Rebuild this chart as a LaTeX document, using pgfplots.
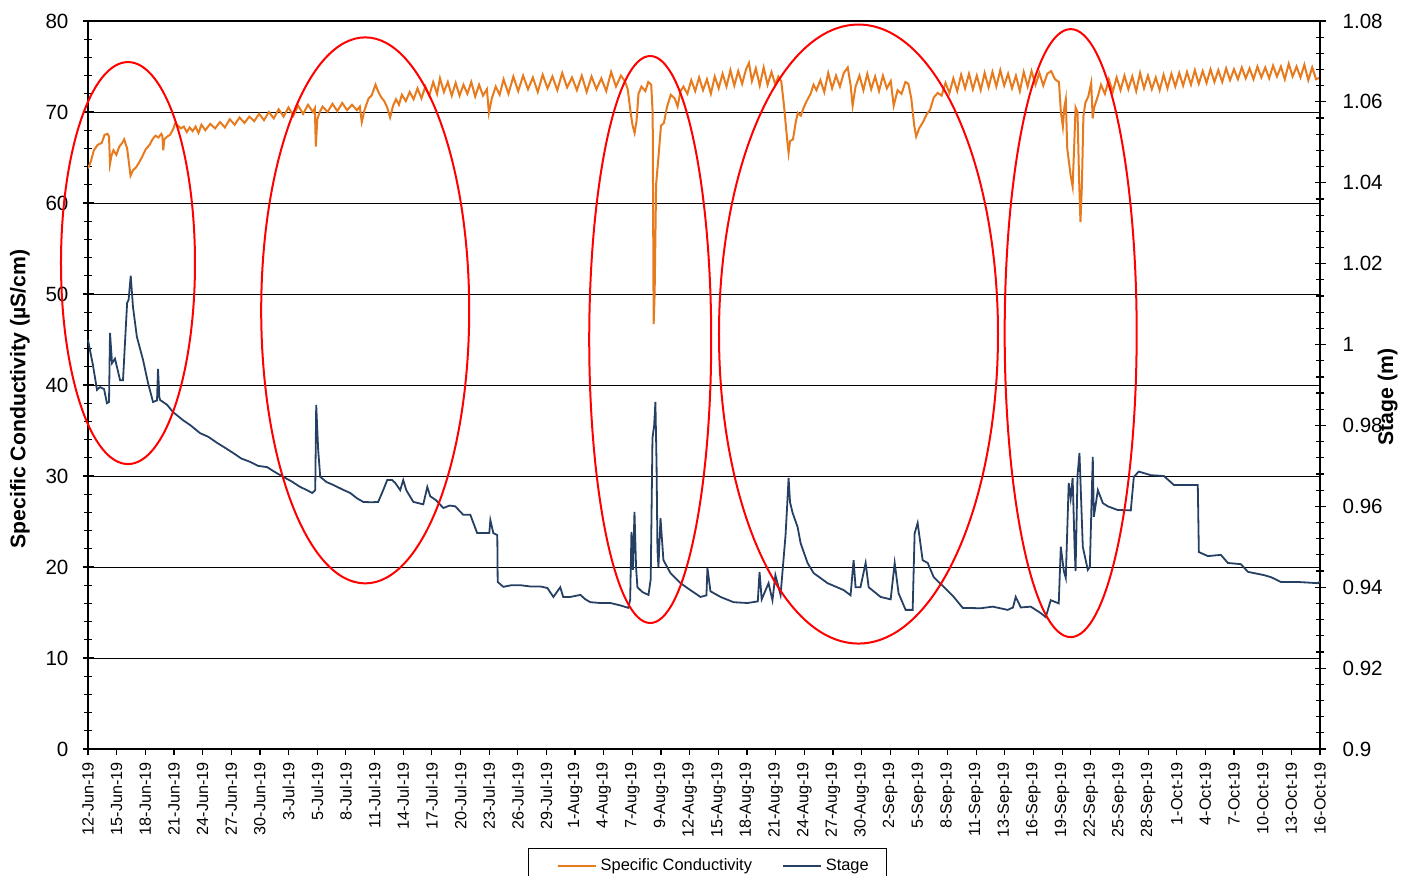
\documentclass[border=0pt]{standalone}
\usepackage{fontspec}
\setmainfont{Liberation Sans}
\usepackage{pgfplots}
\pgfplotsset{compat=1.18}
\definecolor{cond}{RGB}{232,122,30}
\definecolor{stg}{RGB}{38,64,100}
\begin{document}
\begin{tikzpicture}
\useasboundingbox (-44pt,-63pt) rectangle (662.5pt,374.5pt);
\pgfplotsset{every axis/.append style={width=616pt,height=364pt,scale only axis,xmin=0,xmax=126,
  /pgf/number format/assume math mode=true, axis line style={line width=1pt}, tick style={black, line width=0.6pt}}}
% conductivity axis
\begin{axis}[at={(0,0)}, anchor=south west, ymin=0, ymax=80, ytick={0,10,...,80}, minor y tick num=4,
  xtick=\empty, ytick pos=left, tick align=center, major tick length=5.5pt, minor tick length=4pt,
  ymajorgrids, grid style={black, line width=0.5pt},
  yticklabel style={font=\fontsize{10.3}{12}\selectfont, xshift=-3.5pt},
  ylabel={\textbf{Specific Conductivity (µS/cm)}},
  ylabel style={font=\fontsize{10.6}{12}\selectfont, at={(axis description cs:-0.0552,0.4808)}, anchor=center}]
\addplot[cond, line width=1pt] coordinates {
(0,63.8) (0.3,64.6) (0.6,65.8) (1.0,66.4) (1.4,66.6) (1.7,67.5) (2.0,67.6) (2.15,67.3) (2.25,64.3) (2.4,65.2) (2.6,65.8) (2.9,65.3) (3.2,66.2) (3.5,66.6) (3.7,67.0) (4.0,66.0) (4.2,64.3) (4.35,63.0) (4.6,63.6) (4.9,63.9) (5.2,64.4) (5.5,65.0) (5.9,65.9) (6.3,66.4) (6.6,67.0) (6.9,67.4) (7.2,67.2) (7.5,67.6) (7.6,67.4) (7.7,65.8) (7.8,67.0) (8.1,67.3) (8.4,67.5) (8.7,68.1) (8.9,68.7) (9.2,68.5) (9.5,68.2) (9.8,68.4) (10.1,67.8) (10.4,68.3) (10.7,67.9) (11.0,68.4) (11.3,67.7) (11.6,68.6) (12.0,68.0) (12.5,68.7) (13.0,68.2) (13.5,68.9) (14.0,68.3) (14.5,69.2) (15.0,68.6) (15.5,69.4) (16.0,68.8) (16.5,69.5) (17.0,69.0) (17.5,69.8) (18.0,69.1) (18.5,70.0) (19.0,69.3) (19.5,70.3) (20.0,69.5) (20.5,70.5) (21.0,69.6) (21.5,70.7) (22.0,69.8) (22.5,70.8) (23.0,70.0) (23.2,70.4) (23.3,66.2) (23.45,69.2) (23.7,70.0) (24.0,70.6) (24.5,70.0) (25.0,70.9) (25.5,70.1) (26.0,71.0) (26.5,70.2) (27.0,70.8) (27.5,70.2) (27.8,70.6) (28.0,68.9) (28.3,70.3) (28.7,71.5) (29.0,71.8) (29.4,73.0) (29.7,72.2) (30.0,71.6) (30.3,71.2) (30.6,70.5) (30.9,69.4) (31.2,70.7) (31.5,71.4) (31.8,70.8) (32.1,71.9) (32.5,71.2) (32.9,72.2) (33.3,71.4) (33.7,72.6) (34.1,71.5) (34.5,72.8) (34.9,71.8) (35.3,73.3) (35.7,72.0) (36.0,73.7) (36.4,72.2) (36.8,73.3) (37.2,71.8) (37.6,73.2) (38.0,71.8) (38.4,73.0) (38.8,72.0) (39.2,73.3) (39.6,71.7) (40.0,73.0) (40.4,71.8) (40.8,72.5) (41.0,69.9) (41.3,71.5) (41.7,72.8) (42.1,71.9)
(42.5,73.6) (43.0,72.0) (43.5,73.9) (44.0,72.3) (44.5,74.0) (45.0,72.5) (45.5,73.8) (46.0,72.2) (46.5,74.1) (47.0,72.6) (47.5,73.9) (48.0,72.4) (48.5,74.3) (49.0,72.7) (49.5,73.8) (50.0,72.4) (50.5,74.0) (51.0,72.2) (51.5,73.9) (52.0,72.5) (52.5,73.7) (53.0,72.3) (53.5,74.4) (54.0,72.8) (54.5,74.0) (54.9,73.4) (55.2,72.5) (55.5,69.9) (55.7,68.5) (55.9,67.7) (56.1,69.0) (56.3,72.0) (56.6,72.8) (57.0,72.3) (57.3,73.3) (57.6,73.0) (57.75,69.9) (57.85,46.7) (57.95,50.0) (58.1,62.0) (58.4,65.8) (58.6,68.5) (58.9,68.8) (59.2,70.5) (59.6,71.9) (60.0,71.5) (60.3,70.6) (60.6,72.3) (60.9,72.8) (61.3,72.0) (61.7,73.5) (62.1,72.3) (62.5,73.8) (62.9,72.4) (63.3,73.6) (63.7,72.0) (64.1,73.9) (64.5,72.6) (64.9,74.2) (65.3,72.8) (65.7,74.6) (66.1,72.9) (66.5,74.5) (66.9,73.1) (67.3,74.7) (67.6,75.4) (67.9,73.4) (68.3,74.8) (68.7,72.9) (69.1,74.9) (69.5,73.0) (69.9,74.4) (70.3,73.0) (70.6,73.9) (70.9,73.4) (71.2,70.5) (71.5,67.0) (71.65,65.5) (71.8,66.8) (72.1,67.0) (72.4,69.0) (72.6,69.9) (72.9,69.6) (73.2,70.5) (73.5,71.2) (73.9,72.0) (74.2,73.0) (74.5,72.4) (74.9,73.5) (75.3,72.2) (75.7,74.3) (76.1,72.6) (76.5,74.0) (76.9,72.8) (77.3,74.3) (77.7,74.9) (78.0,72.9) (78.2,70.7) (78.5,72.8) (78.9,74.0) (79.3,72.4) (79.7,74.2) (80.1,72.5) (80.5,73.9) (80.9,72.3) (81.3,74.0) (81.7,72.6) (82.1,73.4) (82.4,70.7) (82.8,72.4) (83.2,72.0) (83.6,73.3) (83.9,73.1) (84.2,71.5) (84.5,68.5) (84.7,67.3) (85.0,68.2) (85.4,68.9) (85.8,69.8) (86.1,70.2) (86.5,71.6) (86.9,72.1) (87.3,71.8) (87.7,73.2) (88.1,72.1) (88.5,73.7) (88.9,72.3) (89.3,74.1) (89.7,72.6) (90.1,74.2) (90.5,72.5) (90.9,74.0) (91.3,72.4) (91.7,74.3) (92.1,72.7) (92.5,74.4) (92.9,72.8) (93.3,74.6) (93.7,72.9) (94.1,74.2) (94.5,72.6) (94.9,74.0) (95.3,72.3) (95.7,74.4) (96.1,72.8) (96.5,74.5) (96.9,73.0) (97.3,74.3) (97.7,72.9) (98.1,74.2) (98.5,74.5) (98.9,73.6) (99.3,73.3) (99.5,70.0) (99.7,68.4) (99.85,70.5) (100.0,71.4) (100.15,66.0) (100.3,64.7) (100.5,63.0) (100.7,61.8) (100.85,66.0) (101.0,70.5) (101.2,70.0) (101.35,63.0) (101.5,57.9) (101.65,62.0) (101.8,69.5) (102.0,71.0) (102.3,71.7) (102.6,73.2) (102.75,69.3) (102.9,70.5) (103.3,71.8) (103.6,73.0) (104.0,72.0) (104.4,73.6) (104.8,72.2) (105.2,73.8) (105.6,72.4) (106.0,74.0) (106.4,72.5) (106.8,73.9) (107.2,72.3) (107.6,74.3) (108.0,72.6) (108.4,74.0) (108.8,72.5) (109.2,73.8) (109.6,72.4) (110.0,74.1) (110.4,72.6) (110.8,74.2) (111.2,72.8) (111.6,74.3) (112.0,72.9) (112.4,74.4) (112.8,73.0) (113.2,74.6) (113.6,73.1) (114.0,74.5) (114.4,73.2) (114.8,74.7) (115.2,73.3) (115.6,74.6) (116.0,73.3) (116.4,74.8) (116.8,73.5) (117.2,74.7) (117.6,73.6) (118.0,74.9) (118.4,73.7) (118.8,74.8) (119.2,73.6) (119.6,75.0) (120.0,73.8) (120.4,74.9) (120.8,73.7) (121.2,75.1) (121.6,73.9) (122.0,75.0) (122.4,73.6) (122.8,75.3) (123.2,73.9) (123.6,75.0) (124.0,73.8) (124.4,75.2) (124.8,73.5) (125.2,74.9) (125.6,73.6) (126.0,73.8)
};
\end{axis}
% stage axis
\begin{axis}[at={(0,0)}, anchor=south west, ymin=0.9, ymax=1.08,
  ytick={0.9,0.92,0.94,0.96,0.98,1,1.02,1.04,1.06,1.08},
  yticklabels={0.9,0.92,0.94,0.96,0.98,1,1.02,1.04,1.06,1.08},
  minor y tick num=4, axis y line*=right, axis x line=none,
  tick align=center, major tick length=5.5pt, minor tick length=4pt, clip=false,
  yticklabel style={font=\fontsize{10.3}{12}\selectfont, xshift=5pt},
  ylabel={\textbf{Stage (m)}},
  ylabel style={font=\fontsize{10.6}{12}\selectfont, at={(axis description cs:1.055,0.4835)}, anchor=center},
  legend columns=2, legend cell align=left,
  legend image code/.code={\path (-7pt,0pt); \draw[#1] (0pt,0pt) -- (19pt,0pt);},
  legend style={at={(axis description cs:0.503,-0.136)}, anchor=north, draw=black, line width=0.5pt,
    font=\fontsize{8.2}{10}\selectfont, inner xsep=7pt, inner ysep=3pt,
    /tikz/every even column/.append style={column sep=6pt}}]
\addlegendimage{cond, line width=1pt}\addlegendentry{Specific Conductivity}
\addplot[stg, line width=0.9pt] coordinates {
(0,1.0011) (0.5,0.9950) (0.92,0.9888) (1.23,0.9895) (1.64,0.9890) (1.94,0.9855) (2.15,0.9858) (2.25,1.0029) (2.46,0.9954) (2.76,0.9965) (3.28,0.9912) (3.58,0.9912) (4.0,1.0103) (4.15,1.0110) (4.37,1.0170) (4.6,1.0093) (5.0,1.0019) (5.63,0.9962) (6.14,0.9905) (6.65,0.9858) (7.06,0.9862) (7.16,0.9940) (7.3,0.9870) (7.37,0.9863) (8.09,0.9851) (8.7,0.9833) (9.72,0.9813) (10.5,0.9800) (11.46,0.9781) (12.3,0.9772) (13.2,0.9757) (14.0,0.9745) (14.84,0.9732) (15.7,0.9718) (16.58,0.9710) (17.4,0.9700) (18.32,0.9697) (19.1,0.9685) (19.96,0.9673) (20.8,0.9662) (21.7,0.9648) (22.4,0.9640) (22.93,0.9633) (23.24,0.9640) (23.34,0.9851) (23.54,0.9740) (23.75,0.9673) (24.4,0.9660) (25.08,0.9653) (26.0,0.9642) (26.82,0.9633) (27.5,0.9620) (28.15,0.9611) (29.0,0.9610) (29.68,0.9611) (30.19,0.9640) (30.6,0.9665) (31.1,0.9665) (31.42,0.9658) (31.93,0.9640) (32.24,0.9665) (32.55,0.9640) (33.27,0.9611) (34.29,0.9605) (34.7,0.9648) (35.0,0.9625) (35.6,0.9615) (36.34,0.9596) (37.0,0.9602) (37.56,0.9600) (38.38,0.9579) (39.1,0.9579) (39.8,0.9534) (40.43,0.9534) (41.04,0.9534) (41.15,0.9566) (41.45,0.9534) (41.86,0.9529) (41.9,0.9413) (42.48,0.9401) (43.3,0.9405) (44.2,0.9405) (45.2,0.9402) (46.26,0.9402) (46.98,0.9398) (47.6,0.9376) (48.3,0.9400) (48.6,0.9376) (49.33,0.9376) (50.36,0.9381) (50.87,0.9370) (51.38,0.9363) (52.4,0.9361) (53.43,0.9361) (54.45,0.9355) (55.27,0.9349) (55.45,0.9370) (55.58,0.9537) (55.73,0.9443) (55.89,0.9586) (56.05,0.9450) (56.19,0.9400) (56.7,0.9388) (57.32,0.9381) (57.55,0.9420) (57.73,0.9769) (57.9,0.9800) (58.03,0.9858) (58.15,0.9700) (58.24,0.9492) (58.34,0.9450) (58.55,0.9571) (58.85,0.9467) (59.57,0.9435) (60.6,0.9410) (61.6,0.9393) (62.64,0.9376) (63.25,0.9380) (63.35,0.9448) (63.66,0.9390) (64.69,0.9376) (66.02,0.9363) (67.45,0.9361) (68.5,0.9365) (68.68,0.9438) (68.9,0.9370) (69.6,0.9410) (70.0,0.9368) (70.3,0.9430) (70.83,0.9381) (71.34,0.9529) (71.5,0.9600) (71.65,0.9670) (71.8,0.9610) (72.06,0.9584) (72.57,0.9549) (72.88,0.9509) (73.59,0.9460) (74.21,0.9435) (75.64,0.9410) (77.28,0.9393) (77.99,0.9380) (78.3,0.9467) (78.5,0.9400) (79.0,0.9400) (79.53,0.9460) (79.84,0.9400) (81.06,0.9376) (82.09,0.9370) (82.5,0.9460) (82.9,0.9385) (83.62,0.9344) (84.34,0.9344) (84.54,0.9533) (84.85,0.9559) (85.36,0.9467) (85.88,0.9460) (86.49,0.9425) (87.51,0.9401) (88.54,0.9376) (89.46,0.9349) (91.3,0.9348) (92.53,0.9352) (94.06,0.9344) (94.6,0.9350) (94.88,0.9376) (95.4,0.9350) (96.42,0.9352) (97.44,0.9336) (97.95,0.9326) (98.46,0.9368) (99.28,0.9360) (99.49,0.9500) (99.8,0.9440) (100.0,0.9423) (100.3,0.9658) (100.5,0.9620) (100.7,0.9670) (100.9,0.9500) (101.0,0.9440) (101.2,0.9676) (101.4,0.9732) (101.74,0.9500) (102.25,0.9443) (102.46,0.9450) (102.76,0.9722) (102.87,0.9574) (103.28,0.9640) (103.79,0.9608) (104.3,0.9600) (105.3,0.9591) (106.65,0.9590) (106.96,0.9673) (107.47,0.9686) (108.7,0.9677) (110.03,0.9675) (111.05,0.9653) (112.49,0.9653) (113.5,0.9653) (113.61,0.9487) (114.53,0.9477) (115.86,0.9480) (116.58,0.9460) (117.91,0.9457) (118.63,0.9438) (120.26,0.9430) (120.98,0.9425) (122.0,0.9413) (123.75,0.9413) (125.8,0.9410) (126.0,0.9414)
};
\addlegendentry{Stage}
\draw[red, line width=1pt] (axis cs:4.09,1.02015) ellipse [x radius=33.5pt, y radius=100.5pt];
\draw[red, line width=1pt] (axis cs:28.35,1.00845) ellipse [x radius=52pt, y radius=136.5pt];
\draw[red, line width=1pt] (axis cs:57.5,1.00125) ellipse [x radius=30.5pt, y radius=141.75pt];
\draw[red, line width=1pt] (axis cs:78.8,1.0026) ellipse [x radius=69.75pt, y radius=154.75pt];
\draw[red, line width=1pt] (axis cs:100.5,1.00283) ellipse [x radius=33pt, y radius=152pt];
\end{axis}
% x ticks axis
\begin{axis}[at={(0,0)}, anchor=south west, ymin=0, ymax=1, hide y axis, axis x line*=bottom,
  tick align=outside, major tick length=3pt,
  xtick={0,2.9302,5.8605,8.7907,11.7209,14.6512,17.5814,20.5116,23.4419,26.3721,29.3023,32.2326,35.1628,38.0930,41.0233,43.9535,46.8837,49.8140,52.7442,55.6744,58.6047,61.5349,64.4651,67.3953,70.3256,73.2558,76.1860,79.1163,82.0465,84.9767,87.9070,90.8372,93.7674,96.6977,99.6279,102.5581,105.4884,108.4186,111.3488,114.2791,117.2093,120.1395,123.0698,126},
  xticklabels={12-Jun-19,15-Jun-19,18-Jun-19,21-Jun-19,24-Jun-19,27-Jun-19,30-Jun-19,3-Jul-19,5-Jul-19,8-Jul-19,11-Jul-19,14-Jul-19,17-Jul-19,20-Jul-19,23-Jul-19,26-Jul-19,29-Jul-19,1-Aug-19,4-Aug-19,7-Aug-19,9-Aug-19,12-Aug-19,15-Aug-19,18-Aug-19,21-Aug-19,24-Aug-19,27-Aug-19,30-Aug-19,2-Sep-19,5-Sep-19,8-Sep-19,11-Sep-19,13-Sep-19,16-Sep-19,19-Sep-19,22-Sep-19,25-Sep-19,28-Sep-19,1-Oct-19,4-Oct-19,7-Oct-19,10-Oct-19,13-Oct-19,16-Oct-19},
  xticklabel style={rotate=90, anchor=east, font=\fontsize{8.1}{10}\selectfont}]
\end{axis}
\end{tikzpicture}
\end{document}
